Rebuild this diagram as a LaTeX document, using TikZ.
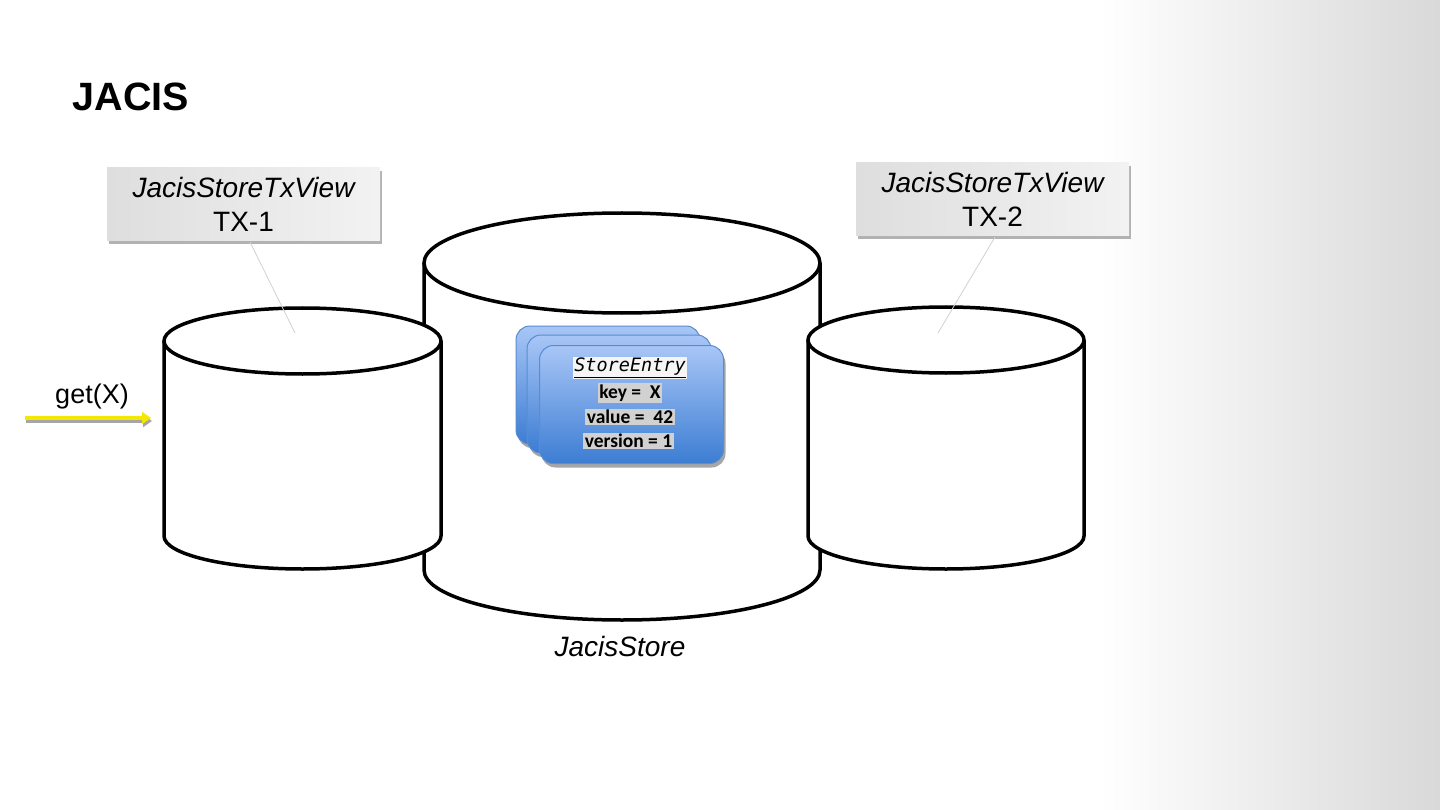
\documentclass[tikz,border=0pt]{standalone}
\usepackage{fontspec}
\setmainfont{Liberation Sans}
\newfontfamily\calfont{Carlito}
\newfontfamily\monofont{DejaVu Sans Mono}
\usetikzlibrary{shadows,arrows.meta}
\definecolor{cardtop}{HTML}{A8C6F6}
\definecolor{cardbot}{HTML}{3C7DD3}
\definecolor{cardedge}{HTML}{5A8CD0}
\definecolor{arrowyellow}{HTML}{F5E800}
\tikzset{
  cyl/.style={line width=3.5pt, draw=black},
  callout/.style={minimum width=273pt, minimum height=73pt, inner sep=0pt,
    left color=black!13, right color=black!5, align=center,
    drop shadow={shadow xshift=2pt, shadow yshift=-3pt, fill=black!30, opacity=1}},
  pointer/.style={draw=black!18, line width=0.8pt},
  card/.style={rounded corners=14pt, minimum width=184pt, minimum height=118pt,
    top color=cardtop, bottom color=cardbot, draw=cardedge, line width=1pt,
    drop shadow={shadow xshift=2pt, shadow yshift=-4pt, fill=black!35, opacity=1}},
  field/.style={fill=black!18, inner sep=1.5pt, font=\calfont\fontsize{19.5}{21}\selectfont\bfseries},
  lbl/.style={font=\fontsize{28}{34}\selectfont, align=center},
}
\begin{document}
\begin{tikzpicture}[x=1pt,y=-1pt]
\useasboundingbox (0,0) rectangle (1440,810);
\fill[white] (0,0) rectangle (1440,810);
\shade[left color=white, right color=black!15] (1100,0) rectangle (1440,810);

% title
\node[anchor=west, font=\fontsize{39.5}{44}\selectfont\bfseries] (title) at (69,97) {JACIS};

% center cylinder
\fill[white] (424,263) rectangle (820,570);
\fill[white] (622,570) ellipse[x radius=198pt, y radius=50pt];
\draw[cyl] (424,263) -- (424,570) arc[start angle=180, end angle=360, x radius=198pt, y radius=50pt] -- (820,263);
\draw[cyl, fill=white] (622,263) ellipse[x radius=198pt, y radius=50pt];

% left cylinder
\fill[white] (164,341) rectangle (441,536);
\fill[white] (302.5,536) ellipse[x radius=138.5pt, y radius=33pt];
\draw[cyl] (164,341) -- (164,536) arc[start angle=180, end angle=360, x radius=138.5pt, y radius=33pt] -- (441,341);
\draw[cyl, fill=white] (302.5,341) ellipse[x radius=138.5pt, y radius=33pt];

% right cylinder
\fill[white] (808,340) rectangle (1084,536);
\fill[white] (946,536) ellipse[x radius=138pt, y radius=33pt];
\draw[cyl] (808,340) -- (808,536) arc[start angle=180, end angle=360, x radius=138pt, y radius=33pt] -- (1084,340);
\draw[cyl, fill=white] (946,340) ellipse[x radius=138pt, y radius=33pt];

% store label
\node[lbl, font=\fontsize{28}{32}\selectfont\itshape] (storelbl) at (620,646) {JacisStore};

% cards
\node[card] (card3) at (608,385) {};
\node[card] (card2) at (619,394) {};
\node[card] (card1) at (631.5,404.5) {};
\node[fill=black!4, inner sep=1.5pt, font=\monofont\fontsize{18.5}{20}\selectfont\itshape] (se) at (630,368) {\underline{StoreEntry}};
\node[field] (key) at (630,393) {key =\ \ X\ };
\node[field] (val) at (630,417) {value =\ \ 42};
\node[field] (ver) at (628.5,441) {version = 1};

% callouts
\node[callout, lbl] (tx1) at (243.5,204.5) {{\itshape JacisStoreTxView}\\TX-1};
\node[callout, lbl] (tx2) at (992.5,199.5) {{\itshape JacisStoreTxView}\\TX-2};
\coordinate (p1) at (295,333);
\coordinate (p2) at (938,333);
\coordinate (t1) at (250,242);
\coordinate (t2) at (995,237);
\draw[pointer] (t1) -- (p1);
\draw[pointer] (t2) -- (p2);

% get(X) arrow
\node[font=\fontsize{27}{30}\selectfont] (get) at (92,397) {get(X)};
\coordinate (a0) at (25,418);
\coordinate (a1) at (151,418);
\draw[black!35, line width=4pt, -{Triangle[length=9pt,width=12pt]}, transform canvas={shift={(1pt,-3pt)}}] (a0) -- (a1);
\draw[arrowyellow, line width=4pt, -{Triangle[length=9pt,width=12pt]}] (a0) -- (a1);
\end{tikzpicture}
\end{document}
